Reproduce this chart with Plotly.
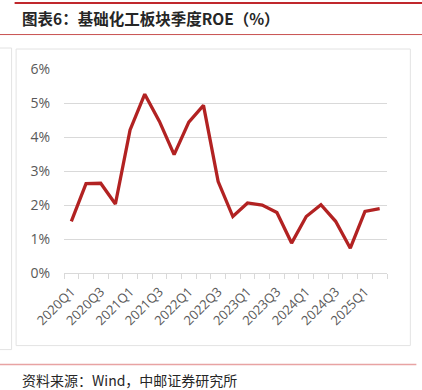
import plotly.graph_objects as go

quarters = ["2020Q1","2020Q2","2020Q3","2020Q4","2021Q1","2021Q2","2021Q3","2021Q4",
            "2022Q1","2022Q2","2022Q3","2022Q4","2023Q1","2023Q2","2023Q3","2023Q4",
            "2024Q1","2024Q2","2024Q3","2024Q4","2025Q1","2025Q2"]
roe = [1.52, 2.63, 2.64, 2.03, 4.21, 5.26, 4.46, 3.48, 4.44, 4.93, 2.69, 1.66,
       2.06, 2.00, 1.78, 0.88, 1.66, 2.01, 1.52, 0.73, 1.81, 1.89]
ytick_vals = [0, 1, 2, 3, 4, 5, 6]
ytick_text = ["0%", "1%", "2%", "3%", "4%", "5%", "6%"]

W, H = 422, 390
L, R, T, B = 64.3, 386.7, 69.0, 273.3
idx = list(range(len(quarters)))

fig = go.Figure()
fig.add_trace(go.Scatter(x=idx, y=roe, mode="lines",
                         line=dict(color="#B22222", width=3.3), hoverinfo="skip"))

def px_x(v):
    return (v - L) / (R - L)
def px_y(v):
    return (B - v) / (B - T)

shapes = [
    dict(type="line", xref="paper", yref="paper", x0=px_x(15), x1=px_x(422), y0=px_y(3), y1=px_y(3),
         line=dict(color="#C0282D", width=2)),
    dict(type="line", xref="paper", yref="paper", x0=px_x(0), x1=px_x(422), y0=px_y(34.5), y1=px_y(34.5),
         line=dict(color="#C8504F", width=1)),
    dict(type="rect", xref="paper", yref="paper", x0=px_x(-5), x1=px_x(12), y0=px_y(350), y1=px_y(48),
         line=dict(color="#E3E3E3", width=1)),
    dict(type="rect", xref="paper", yref="paper", x0=px_x(16.5), x1=px_x(410), y0=px_y(346), y1=px_y(49),
         line=dict(color="#E3E3E3", width=1)),
    dict(type="line", xref="paper", yref="paper", x0=px_x(0), x1=px_x(416), y0=px_y(365), y1=px_y(365),
         line=dict(color="#E8A3A3", width=1.5)),
]

annotations = [
    dict(text="<b>图表6：基础化工板块季度ROE（%）</b>", xref="paper", yref="paper",
         x=px_x(20), y=px_y(18), xanchor="left", yanchor="middle", showarrow=False,
         font=dict(family="Noto Sans CJK SC", size=15.5, color="#262626")),
    dict(text="资料来源：Wind，中邮证券研究所", xref="paper", yref="paper",
         x=px_x(20), y=px_y(380), xanchor="left", yanchor="middle", showarrow=False,
         font=dict(family="Noto Sans CJK SC", size=14, color="#262626")),
]

fig.update_layout(
    width=W, height=H,
    margin=dict(l=L, r=W - R, t=T, b=H - B, pad=0),
    paper_bgcolor="white", plot_bgcolor="white",
    showlegend=False,
    shapes=shapes, annotations=annotations,
    xaxis=dict(range=[-0.5, len(quarters) - 0.5],
               tickmode="array", tickvals=idx[::2], ticktext=quarters[::2],
               tickangle=-45, ticks="", showgrid=False, zeroline=False,
               showline=True, linecolor="#D9D9D9", linewidth=1,
               ticklabelstandoff=5,
               tickfont=dict(family="Open Sans", size=13, color="#595959"),
               minor=dict(tickmode="linear", tick0=-0.5, dtick=1, ticks="outside",
                          ticklen=5, tickcolor="#D9D9D9", tickwidth=1, showgrid=False),
               fixedrange=True),
    yaxis=dict(range=[0, 6], tickmode="array", tickvals=ytick_vals, ticktext=ytick_text,
               showgrid=True, gridcolor="#D9D9D9", gridwidth=1, zeroline=False,
               showline=False, ticks="", ticklabelstandoff=13,
               tickfont=dict(family="Open Sans", size=14, color="#595959"),
               fixedrange=True),
)

fig.write_html("out.html", config={"displayModeBar": False},
               post_script="document.body.style.margin='0';document.body.style.overflow='hidden';")
